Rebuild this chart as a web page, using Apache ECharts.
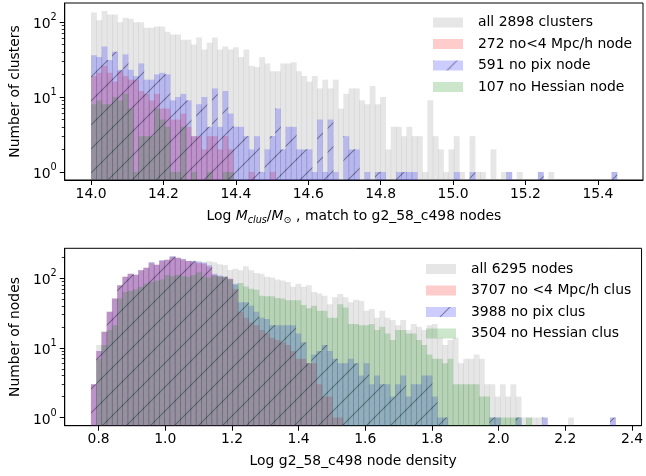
<!DOCTYPE html>
<html><head><meta charset="utf-8">
<script src="https://cdn.jsdelivr.net/npm/echarts@6/dist/echarts.min.js"></script>
<style>html,body{margin:0;padding:0;background:#fff}#c{width:646px;height:476px}</style>
</head><body><div id="c"></div>
<script>
// ---------------- data ----------------
// top panel: Log M_clus/M_sun histogram, 100 bins
const topBinLo = 14.0, topBinHi = 15.452, topBinN = 100;
const topAll = [134,105,140,126,126,99,114,110,99,99,
 84,84,87,87,74,68,68,58,58,50,
 62,43,53,62,43,47,43,46,34,43,
 26,25,34,28,22,22,28,28,29,22,
 19,16,19,13,17,13,17,7,11,13,
 13,9,8,14,8,10,2,4,4,3,
 4,3,3,1,9,3,2,1,2,3,
 1,0,3,1,1,0,2,0,1,1,
 0,1,0,0,0,1,0,1,0,0,
 0,0,0,0,0,0,0,0,0,1];
const topNo4 = [19,21,26,21,16,22,19,17,17,12,
 11,9,11,7,7,5,5,6,4,3,
 3,2,3,3,2,3,2,0,0,0,
 1,0,0,0,1,0,0,0,0,0];
const topNoPix = [36,34,47,31,40,23,37,23,19,28,
 17,17,20,21,20,9,10,11,9,3,
 8,10,4,13,4,12,6,4,4,3,
 2,3,1,2,3,7,2,4,4,2,
 2,2,1,5,1,5,1,0,3,2,
 2,0,1,0,1,1,0,0,1,1,
 1,1,0,0,0,0,0,0,0,1,
 0,0,1,0,0,0,0,0,0,1,
 0,0,0,0,0,1,0,0,0,0,
 0,0,0,0,0,0,0,0,0,1];
const topNoHess = [8,9,8,8,10,9,11,7,1,3,
 3,3,7,5,4,1,1,4,0,1,
 0,0,1,0,0,1,1,0,0,0];

// bottom panel: Log node density histogram, 100 bins
const botBinLo = 0.777, botBinHi = 2.350, botBinN = 100;
const botAll = [3,11,17,33,51,79,104,115,112,129,
 140,170,155,182,183,205,195,190,177,178,
 175,170,174,169,158,154,131,136,129,148,
 129,118,115,104,102,95,92,88,75,83,
 75,79,63,60,56,42,53,59,53,45,
 49,47,34,36,27,34,27,25,21,25,
 18,22,20,18,21,22,14,11,13,14,
 6,7,7,8,7,3,3,2,3,2,
 3,2,1,1,1,1,1,0,0,0,
 0,1,0,0,0,0,0,0,0,1];
const botNo4 = [3,9,17,33,51,79,104,115,112,129,
 140,163,155,175,183,201,195,183,175,170,
 163,160,145,111,104,104,98,69,33,27,
 23,21,18,16,14,13,12,11,9,7,
 7,6,6,3,2,2,1,1,0,0];
const botNoPix = [3,9,17,33,51,79,104,115,112,129,
 140,168,155,180,183,205,195,188,175,176,
 170,166,152,115,109,104,98,83,45,45,
 40,33,27,26,21,21,21,21,21,16,
 12,6,8,9,11,9,7,6,6,7,
 6,4,6,3,4,3,3,2,3,4,
 2,3,3,4,4,2,1,1,0,0,
 0,0,0,0,0,0,1,1,0,0,
 0,1,0,0,0,0,1,0,0,0,
 0,0,0,0,0,0,0,0,0,1];
const botNoHess = [0,7,11,18,21,51,63,66,69,75,
 83,88,92,95,111,106,112,106,104,111,
 121,104,102,109,106,104,95,80,85,76,
 70,68,56,55,55,52,51,48,48,48,
 41,37,40,34,34,27,27,42,38,22,
 22,21,21,22,18,20,16,13,18,18,
 16,16,13,11,8,7,7,6,7,3,
 3,3,3,3,2,2,1,1,1,1,
 1,1,0,1];

const topNames = ['all 2898 clusters','272 no<4 Mpc/h node','591 no pix node','107 no Hessian node'];
const botNames = ['all 6295 nodes','3707 no <4 Mpc/h clus','3988 no pix clus','3504 no Hessian clus'];
const topXTicks = [14.0,14.2,14.4,14.6,14.8,15.0,15.2,15.4];
const botXTicks = [0.8,1.0,1.2,1.4,1.6,1.8,2.0,2.2,2.4];
const yMajor = [1,10,100];
const yMinor = [2,3,4,5,6,7,8,9,20,30,40,50,60,70,80,90,200];

// ---------------- chart ----------------
const F = 'DejaVu Sans', FS = 13.9;
const topX = [13.9274, 15.5246], botX = [0.6984, 2.4287];
const topY = [0.781, 179], botY = [0.766, 267];

function hatch(){
  const s = 24, cv = document.createElement('canvas');
  cv.width = s; cv.height = s;
  const g = cv.getContext('2d');
  g.fillStyle = 'rgba(0,0,255,0.2)'; g.fillRect(0,0,s,s);
  g.strokeStyle = 'rgba(40,40,80,0.5)'; g.lineWidth = 1.1;
  g.beginPath();
  for (const o of [-s,0,s]) { g.moveTo(o-1, s+1); g.lineTo(o+s+1, -1); }
  g.stroke();
  return {image: cv, repeat: 'repeat'};
}
const cGray = 'rgba(128,128,128,0.2)', cRed = 'rgba(255,0,0,0.2)', cGreen = 'rgba(0,128,0,0.2)';
const cBlue = hatch();

function items(counts, lo, hi, n){
  const w = (hi - lo) / n;
  return counts.map((c, i) => [lo + i*w, lo + (i+1)*w, c]);
}
function renderer(fill, ymin){
  return function(params, api){
    const c = api.value(2);
    if (!(c > 0)) return null;
    const a = api.coord([api.value(0), c]);
    const b = api.coord([api.value(1), ymin]);
    return {type:'rect', shape:{x:a[0], y:a[1], width:b[0]-a[0]+0.6, height:b[1]-a[1]},
      style:{fill: fill}};
  };
}
function mkSeries(name, counts, lo, hi, n, fill, gi, ymin, z){
  return {type:'custom', name, xAxisIndex: gi, yAxisIndex: gi*2, silent:true, clip:true,
    data: items(counts, lo, hi, n), renderItem: renderer(fill, ymin),
    itemStyle:{color: fill}, z: z, animation:false};
}
const supFmt = v => '{b|10}{s|' + Math.round(Math.log10(v)) + '}';
const supRich = {b:{fontFamily:F, fontSize:FS, color:'#000', verticalAlign:'bottom', lineHeight:19},
                 s:{fontFamily:F, fontSize:9.7, color:'#000', verticalAlign:'top', lineHeight:11}};
function xAxis(gi, ext, ticks, name, rich, gap){
  return {type:'value', gridIndex:gi, min:ext[0], max:ext[1], position:'bottom',
    axisLine:{onZero:false, lineStyle:{color:'#000', width:1}},
    axisTick:{length:5, customValues:ticks, lineStyle:{color:'#000', width:1}},
    axisLabel:{customValues:ticks, formatter: v => v.toFixed(1), margin:7, fontFamily:F, fontSize:FS, color:'#000'},
    splitLine:{show:false},
    name, nameLocation:'middle', nameGap:gap,
    nameTextStyle:{fontFamily:F, fontSize:FS, color:'#000', rich: rich}};
}
function yAxes(gi, ext, name){
  return [{type:'log', logBase:10, gridIndex:gi, min:ext[0], max:ext[1], position:'left',
    name, nameLocation:'middle', nameGap:40,
    nameTextStyle:{fontFamily:F, fontSize:FS, color:'#000'},
    axisLine:{show:true, onZero:false, lineStyle:{color:'#000', width:1}},
    axisTick:{show:true, length:5, customValues:yMajor, lineStyle:{color:'#000', width:1}},
    axisLabel:{customValues:yMajor, margin:8, formatter:supFmt, rich:supRich},
    splitLine:{show:false}},
   {type:'log', logBase:10, gridIndex:gi, min:ext[0], max:ext[1], position:'left', offset:0,
    axisLine:{show:false, onZero:false},
    axisTick:{show:true, length:3, customValues:yMinor, lineStyle:{color:'#000', width:0.8}},
    axisLabel:{show:false}, splitLine:{show:false}}];
}
const xRich = {n:{fontFamily:F, fontSize:FS, color:'#000', verticalAlign:'top', lineHeight:16},
  i:{fontFamily:F, fontSize:FS, fontStyle:'italic', color:'#000', verticalAlign:'top', lineHeight:16},
  sub:{fontFamily:F, fontSize:9.7, fontStyle:'italic', color:'#000', verticalAlign:'bottom', lineHeight:11, padding:[8,0,0,0]},
  subn:{fontFamily:F, fontSize:9.7, color:'#000', verticalAlign:'bottom', lineHeight:11, padding:[8,0,0,0]}};
function legend(names, left, top){
  const cols = [cGray, cRed, cBlue, cGreen];
  return {orient:'vertical', left, top, itemWidth:30, itemHeight:10, itemGap:7.5, icon:'rect',
    selectedMode:false,
    data: names.map((n,i) => ({name:n, icon:'rect', itemStyle:{color: cols[i], borderWidth:0}})),
    textStyle:{fontFamily:F, fontSize:FS, color:'#000', lineHeight:14, padding:[0,0,0,10]}};
}
const chart = echarts.init(document.getElementById('c'), null, {renderer:'canvas'});
chart.setOption({
  animation:false, backgroundColor:'#fff',
  grid:[{left:64, top:3, width:579, height:177, show:true, borderColor:'#000', borderWidth:1, backgroundColor:'transparent'},
        {left:64, top:248.3, width:579, height:177.4, show:true, borderColor:'#000', borderWidth:1, backgroundColor:'transparent'}],
  xAxis:[xAxis(0, topX, topXTicks, '{n|Log }{i|M}{sub|clus}{n|/}{i|M}{subn|⊙}{n| , match to g2_58_c498 nodes}', xRich, 29),
         xAxis(1, botX, botXTicks, 'Log g2_58_c498 node density', null, 29)],
  yAxis:[...yAxes(0, topY, 'Number of clusters'), ...yAxes(1, botY, 'Number of nodes')],
  legend:[legend(topNames, 428, 10.5), legend(botNames, 421, 257)],
  series:[
    mkSeries(topNames[0], topAll, topBinLo, topBinHi, topBinN, cGray, 0, topY[0], 1),
    mkSeries(topNames[1], topNo4, topBinLo, topBinHi, topBinN, cRed, 0, topY[0], 2),
    mkSeries(topNames[2], topNoPix, topBinLo, topBinHi, topBinN, cBlue, 0, topY[0], 3),
    mkSeries(topNames[3], topNoHess, topBinLo, topBinHi, topBinN, cGreen, 0, topY[0], 4),
    mkSeries(botNames[0], botAll, botBinLo, botBinHi, botBinN, cGray, 1, botY[0], 1),
    mkSeries(botNames[1], botNo4, botBinLo, botBinHi, botBinN, cRed, 1, botY[0], 2),
    mkSeries(botNames[2], botNoPix, botBinLo, botBinHi, botBinN, cBlue, 1, botY[0], 3),
    mkSeries(botNames[3], botNoHess, botBinLo, botBinHi, botBinN, cGreen, 1, botY[0], 4)
  ]
});
</script></body></html>
